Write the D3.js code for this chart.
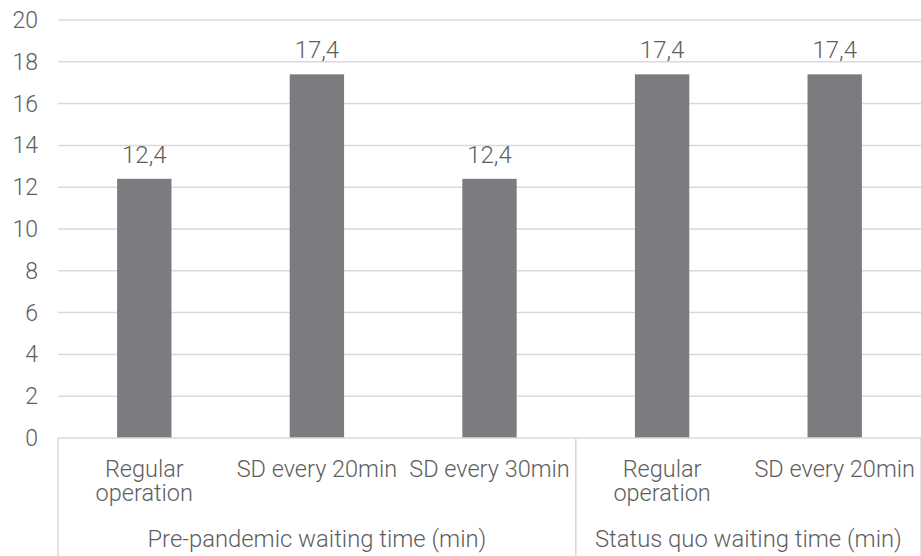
<!DOCTYPE html>
<html>
<head>
<meta charset="utf-8">
<script src="https://cdn.jsdelivr.net/npm/d3@7"></script>
<style>
  html, body { margin: 0; padding: 0; background: #fff; }
  svg text { font-family: Roboto, "Liberation Sans", sans-serif; font-weight: 300; fill: #5e5e5e; }
</style>
</head>
<body>
<svg id="chart" width="921" height="556"></svg>
<script>
// Waiting times per scenario, grouped by period
const categories = [
  ["Regular", "operation"],
  ["SD every 20min"],
  ["SD every 30min"],
  ["Regular", "operation"],
  ["SD every 20min"]
];
const groups = ["Pre-pandemic waiting time (min)", "Status quo waiting time (min)"];
const groupSizes = [3, 2];
const values = [12.4, 17.4, 12.4, 17.4, 17.4];
const valueLabels = ["12,4", "17,4", "12,4", "17,4", "17,4"];
const yTicks = [0, 2, 4, 6, 8, 10, 12, 14, 16, 18, 20];

const svg = d3.select("#chart");
const plotLeft = 58, plotRight = 921, plotTop = 20, plotBottom = 438;

const x = d3.scaleBand().domain(d3.range(values.length)).range([plotLeft, plotRight]).paddingInner(0).paddingOuter(0);
const y = d3.scaleLinear().domain([0, 20]).range([plotBottom, plotTop]);
const barW = x.bandwidth() * 0.315;

// gridlines
svg.append("g").selectAll("line").data(yTicks.filter(d => d > 0)).join("line")
  .attr("x1", plotLeft).attr("x2", plotRight)
  .attr("y1", d => y(d)).attr("y2", d => y(d))
  .attr("stroke", "#d9d9d9").attr("stroke-width", 1.5);

// y tick labels
svg.append("g").selectAll("text").data(yTicks).join("text")
  .attr("x", 38).attr("y", d => y(d) + 8)
  .attr("text-anchor", "end").attr("font-size", 23)
  .text(d => d);

// bars
svg.append("g").selectAll("rect").data(values).join("rect")
  .attr("x", (d, i) => x(i) + x.bandwidth() / 2 - barW / 2)
  .attr("width", barW)
  .attr("y", d => y(d))
  .attr("height", d => y(0) - y(d))
  .attr("fill", "#7b7c80");

// value labels
svg.append("g").selectAll("text").data(values).join("text")
  .attr("x", (d, i) => x(i) + x.bandwidth() / 2)
  .attr("y", d => y(d) - 16)
  .attr("text-anchor", "middle").attr("font-size", 24)
  .text((d, i) => valueLabels[i]);

// category axis line
svg.append("line").attr("x1", plotLeft).attr("x2", plotRight).attr("y1", plotBottom).attr("y2", plotBottom)
  .attr("stroke", "#d9d9d9").attr("stroke-width", 1.5);

// group separators
let acc = 0;
const seps = [0];
groupSizes.forEach(n => { acc += n; seps.push(acc); });
const sepX = d => d < values.length ? x(d) : plotRight;
svg.append("g").selectAll("line").data(seps).join("line")
  .attr("x1", sepX).attr("x2", sepX)
  .attr("y1", plotBottom).attr("y2", 556)
  .attr("stroke", "#d9d9d9").attr("stroke-width", 1.5);

// category labels
const cat = svg.append("g").selectAll("text").data(categories).join("text")
  .attr("text-anchor", "middle").attr("font-size", 23.5);
cat.each(function(lines, i) {
  d3.select(this).selectAll("tspan").data(lines).join("tspan")
    .attr("x", x(i) + x.bandwidth() / 2)
    .attr("y", (l, j) => 477 + j * 24)
    .text(l => l);
});

// group labels
svg.append("g").selectAll("text").data(groups).join("text")
  .attr("x", (d, i) => (sepX(seps[i]) + sepX(seps[i + 1])) / 2)
  .attr("y", 547)
  .attr("text-anchor", "middle").attr("font-size", 23.8)
  .text(d => d);
</script>
</body>
</html>
